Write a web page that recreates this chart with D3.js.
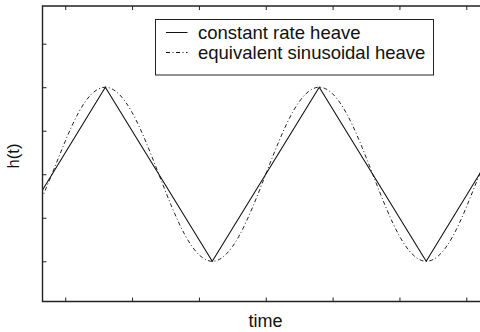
<!DOCTYPE html>
<html>
<head>
<meta charset="utf-8">
<script src="https://cdn.jsdelivr.net/npm/d3@7"></script>
<style>
  html, body { margin: 0; padding: 0; background: #fff; }
  svg { display: block; font-family: "Liberation Sans", Arial, Helvetica, sans-serif; }
</style>
</head>
<body>
<script>
// values (time in tick units, h in units of amplitude)
var xTicks = [1, 2, 3, 4, 5, 6, 7]
var yTicks = [-1, -0.5, 0, 0.5, 1, 1.5]

// constant rate heave: triangle vertices
var triT = [0.66, 1.6, 3.2, 4.8, 6.4, 7.22]
var triH = [-0.18, 1, -1, 1, -1, 0.03]

// equivalent sinusoidal heave: samples every 1/8 period
var sinT = [0.4, 0.8, 1.2, 1.6, 2.0, 2.4, 2.8, 3.2, 3.6, 4.0, 4.4, 4.8, 5.2, 5.6, 6.0, 6.4, 6.8, 7.2, 7.6]
var sinH = [-0.71, 0, 0.71, 1, 0.71, 0, -0.71, -1, -0.71, 0, 0.71, 1, 0.71, 0, -0.71, -1, -0.71, 0, 0.71]

var legendLabels = ['constant rate heave', 'equivalent sinusoidal heave']

;(function () {

    var W = 480, H = 332
    var left = 42.5, top = 6, right = 481, bottom = 301.5

    var svg = d3.select('body').append('svg')
        .attr('width', W)
        .attr('height', H)

    var x = d3.scaleLinear().domain([0.66, 7.22]).range([left, right])
    var y = d3.scaleLinear().domain([-1.462, 1.933]).range([bottom, top])

    svg.append('defs').append('clipPath').attr('id', 'plot')
        .append('rect')
        .attr('x', left).attr('y', top)
        .attr('width', right - left).attr('height', bottom - top)

    var line = d3.line()
        .x(function (d) { return x(d[0]) })
        .y(function (d) { return y(d[1]) })

    var tri = d3.zip(triT, triH)
    var sin = d3.zip(sinT, sinH)

    var g = svg.append('g').attr('clip-path', 'url(#plot)')

    g.append('path')
        .attr('d', line.curve(d3.curveNatural)(sin))
        .attr('fill', 'none')
        .attr('stroke', '#222')
        .attr('stroke-width', 1)
        .attr('stroke-dasharray', '4,2.5,1,2.5')

    g.append('path')
        .attr('d', line.curve(d3.curveLinear)(tri))
        .attr('fill', 'none')
        .attr('stroke', '#111')
        .attr('stroke-width', 1.1)

    // axes: ticks only, pointing inwards, no labels
    var axisStyle = function (sel) {
        sel.select('.domain').remove()
        sel.selectAll('.tick line').attr('stroke', '#222').attr('stroke-width', 1)
    }

    svg.append('g')
        .attr('transform', 'translate(0,' + bottom + ')')
        .call(d3.axisTop(x).tickValues(xTicks).tickSize(4).tickFormat(''))
        .call(axisStyle)

    svg.append('g')
        .attr('transform', 'translate(0,' + top + ')')
        .call(d3.axisBottom(x).tickValues(xTicks).tickSize(4).tickFormat(''))
        .call(axisStyle)

    svg.append('g')
        .attr('transform', 'translate(' + left + ',0)')
        .call(d3.axisRight(y).tickValues(yTicks).tickSize(4).tickFormat(''))
        .call(axisStyle)

    // frame (right edge falls outside the picture)
    svg.append('path')
        .attr('d', 'M' + right + ',' + top + 'H' + left + 'V' + bottom + 'H' + right)
        .attr('fill', 'none')
        .attr('stroke', '#222')
        .attr('stroke-width', 1.4)

    // legend
    var leg = svg.append('g')
    leg.append('rect')
        .attr('x', 155.5).attr('y', 19.5)
        .attr('width', 278).attr('height', 55.5)
        .attr('fill', '#fff')
        .attr('stroke', '#222')
        .attr('stroke-width', 1)

    var rows = [32.5, 52.5]
    leg.selectAll('line.sample')
        .data(legendLabels)
        .enter().append('line')
        .attr('class', 'sample')
        .attr('x1', 166).attr('x2', 187.5)
        .attr('y1', function (d, i) { return rows[i] })
        .attr('y2', function (d, i) { return rows[i] })
        .attr('stroke', '#111')
        .attr('stroke-width', 1)
        .attr('stroke-dasharray', function (d, i) { return i ? '4,2.5,1,2.5' : null })

    leg.selectAll('text')
        .data(legendLabels)
        .enter().append('text')
        .attr('x', 198)
        .attr('y', function (d, i) { return rows[i] + 6 })
        .attr('font-size', 18.5)
        .attr('fill', '#111')
        .text(function (d) { return d })

    // axis titles
    svg.append('text')
        .attr('x', 265.5).attr('y', 327)
        .attr('text-anchor', 'middle')
        .attr('font-size', 18)
        .attr('fill', '#111')
        .text('time')

    svg.append('text')
        .attr('transform', 'translate(19,156) rotate(-90)')
        .attr('text-anchor', 'middle')
        .attr('font-size', 16.5)
        .attr('fill', '#111')
        .text('h(t)')

})()
</script>
</body>
</html>
